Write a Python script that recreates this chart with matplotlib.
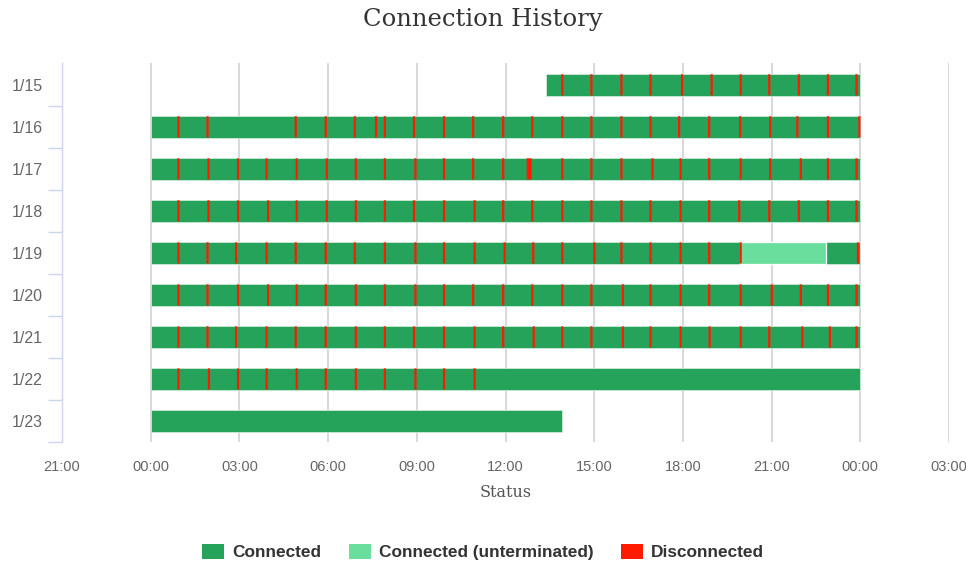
import matplotlib
matplotlib.use("Agg")
import matplotlib.pyplot as plt
from matplotlib.patches import Patch

# ---------------- data ----------------
days = ['1/15', '1/16', '1/17', '1/18', '1/19', '1/20', '1/21', '1/22', '1/23']
conn_start = ['13:23', '00:00', '00:00', '00:00', '00:00', '00:00', '00:00', '00:00', '00:00']
conn_end = ['24:00', '24:00', '24:00', '24:00', '24:00', '24:00', '24:00', '24:00', '13:54']

unterm_day = ['1/19']
unterm_start = ['19:56']
unterm_end = ['22:51']

disc_0115 = ['13:53', '14:52', '15:53', '16:52', '17:56', '18:56', '19:55', '20:53', '21:53', '22:52', '23:50']
disc_0116 = ['00:54', '01:53', '04:52', '05:53', '06:52', '07:35', '07:53', '08:52', '09:53', '10:52', '11:53',
             '12:52', '13:53', '14:52', '15:53', '16:52', '17:50', '18:51', '19:54', '20:55', '21:50', '22:52', '23:56']
disc_0117 = ['00:54', '01:55', '02:55', '03:53', '04:54', '05:55', '06:54', '07:53', '08:55', '09:53', '10:52',
             '11:53', '12:43', '13:53', '14:52', '15:53', '16:56', '17:53', '18:51', '19:55', '20:55', '21:57',
             '22:52', '23:50']
disc_0118 = ['00:54', '01:55', '02:55', '03:56', '04:54', '05:55', '06:54', '07:53', '08:52', '09:53', '10:55',
             '11:53', '12:52', '13:53', '14:52', '15:53', '16:52', '17:53', '18:51', '19:52', '20:53', '21:53',
             '22:52', '23:50']
disc_0119 = ['00:54', '01:53', '02:51', '03:53', '04:52', '05:53', '06:52', '07:53', '08:55', '09:53', '10:55',
             '11:56', '12:54', '13:53', '14:58', '15:53', '16:52', '17:53', '18:51', '19:55', '23:53']
disc_0120 = ['00:54', '01:53', '02:55', '03:56', '04:54', '05:53', '06:54', '07:53', '08:55', '09:53', '10:52',
             '11:53', '12:52', '13:53', '14:52', '15:56', '16:52', '17:53', '18:51', '19:55', '20:58', '21:57',
             '22:52', '23:50']
disc_0121 = ['00:54', '01:53', '02:51', '03:53', '04:52', '05:53', '06:54', '07:53', '08:52', '09:53', '10:55',
             '11:53', '12:55', '13:53', '14:52', '15:56', '16:52', '17:53', '18:52', '19:55', '20:53', '22:00',
             '22:56', '23:50']
disc_0122 = ['00:54', '01:56', '02:55', '03:53', '04:54', '05:53', '06:54', '07:53', '08:55', '09:53', '10:55']
disc_0123 = []
# disconnect durations in minutes (default, one long outage on 1/17)
disc_default_min = 4.5
disc_long = {('1/17', '12:43'): 10}

xtick_labels = ['21:00', '00:00', '03:00', '06:00', '09:00', '12:00', '15:00', '18:00', '21:00', '00:00', '03:00']
xtick_hours = [-3, 0, 3, 6, 9, 12, 15, 18, 21, 24, 27]

# ---------------- style ----------------
C_CONN = '#25a35a'
C_UNT = '#6ade9c'
C_DISC = '#ff1a00'
BAR_H = 0.53


def h(s):
    hh, mm = s.split(':')
    return int(hh) + int(mm) / 60.0


disc_all = [disc_0115, disc_0116, disc_0117, disc_0118, disc_0119, disc_0120, disc_0121, disc_0122, disc_0123]

fig = plt.figure(figsize=(9.66, 5.65), dpi=100)
ax = fig.add_axes([62 / 966, 1 - 442 / 565, (949 - 62) / 966, (442 - 63) / 565])

for i, d in enumerate(days):
    s, e = h(conn_start[i]), h(conn_end[i])
    ax.barh(i, e - s, left=s, height=BAR_H, color=C_CONN, edgecolor='#cfe9d8', linewidth=0.6, zorder=3)

for d, s, e in zip(unterm_day, unterm_start, unterm_end):
    i = days.index(d)
    ax.barh(i, h(e) - h(s), left=h(s), height=BAR_H, color=C_UNT, edgecolor='white', linewidth=0.9, zorder=4)

for i, d in enumerate(days):
    for t in disc_all[i]:
        dur = disc_long.get((d, t), disc_default_min) / 60.0
        bars = ax.barh(i, dur, left=h(t), height=BAR_H * 0.95, color=C_DISC, linewidth=0, zorder=5)
        for b in bars:
            b.set_snap(False)

ax.set_xlim(-3, 27)
ax.set_ylim(len(days) - 0.5, -0.52)

# x axis
ax.set_xticks(xtick_hours)
ax.set_xticklabels(xtick_labels)
ax.tick_params(axis='x', length=0, pad=13, labelsize=10.5, labelcolor='#666666')
for lab in ax.get_xticklabels():
    lab.set_family('Liberation Sans')
for xh in xtick_hours[1:]:
    ax.axvline(xh, color='#d6d6d6', linewidth=1.3, zorder=1)
ax.set_xlabel('Status', family='DejaVu Serif', fontsize=11.5, color='#555555', labelpad=7)

# y axis
ax.set_yticks([i + 0.5 for i in range(len(days))])
ax.set_yticklabels([])
ax.tick_params(axis='y', which='major', length=10, width=1, color='#ccd6eb')
ax.set_yticks(range(len(days)), minor=True)
ax.set_yticklabels(days, minor=True)
ax.tick_params(axis='y', which='minor', length=0, pad=14, labelsize=11.5, labelcolor='#666666')
for lab in ax.get_yticklabels(minor=True):
    lab.set_family('Liberation Sans')

for sp in ['top', 'right', 'bottom']:
    ax.spines[sp].set_visible(False)
ax.spines['left'].set_color('#ccd6eb')
ax.spines['left'].set_linewidth(1)

fig.suptitle('Connection History', family='DejaVu Serif', fontsize=17.5, color='#333333',
             y=1 - 8 / 565, va='top')

handles = [Patch(facecolor=C_CONN, edgecolor='none'),
           Patch(facecolor=C_UNT, edgecolor='none'),
           Patch(facecolor=C_DISC, edgecolor='none')]
leg = fig.legend(handles, ['Connected', 'Connected (unterminated)', 'Disconnected'], loc='center',
                 bbox_to_anchor=(0.5, 1 - 552 / 565), ncol=3, frameon=False,
                 handlelength=1.28, handleheight=1.0, handletextpad=0.45, columnspacing=1.6,
                 prop={'family': 'Liberation Sans', 'weight': 'bold', 'size': 12.4})
for t in leg.get_texts():
    t.set_color('#333333')

fig.savefig('out.png', dpi=100)
